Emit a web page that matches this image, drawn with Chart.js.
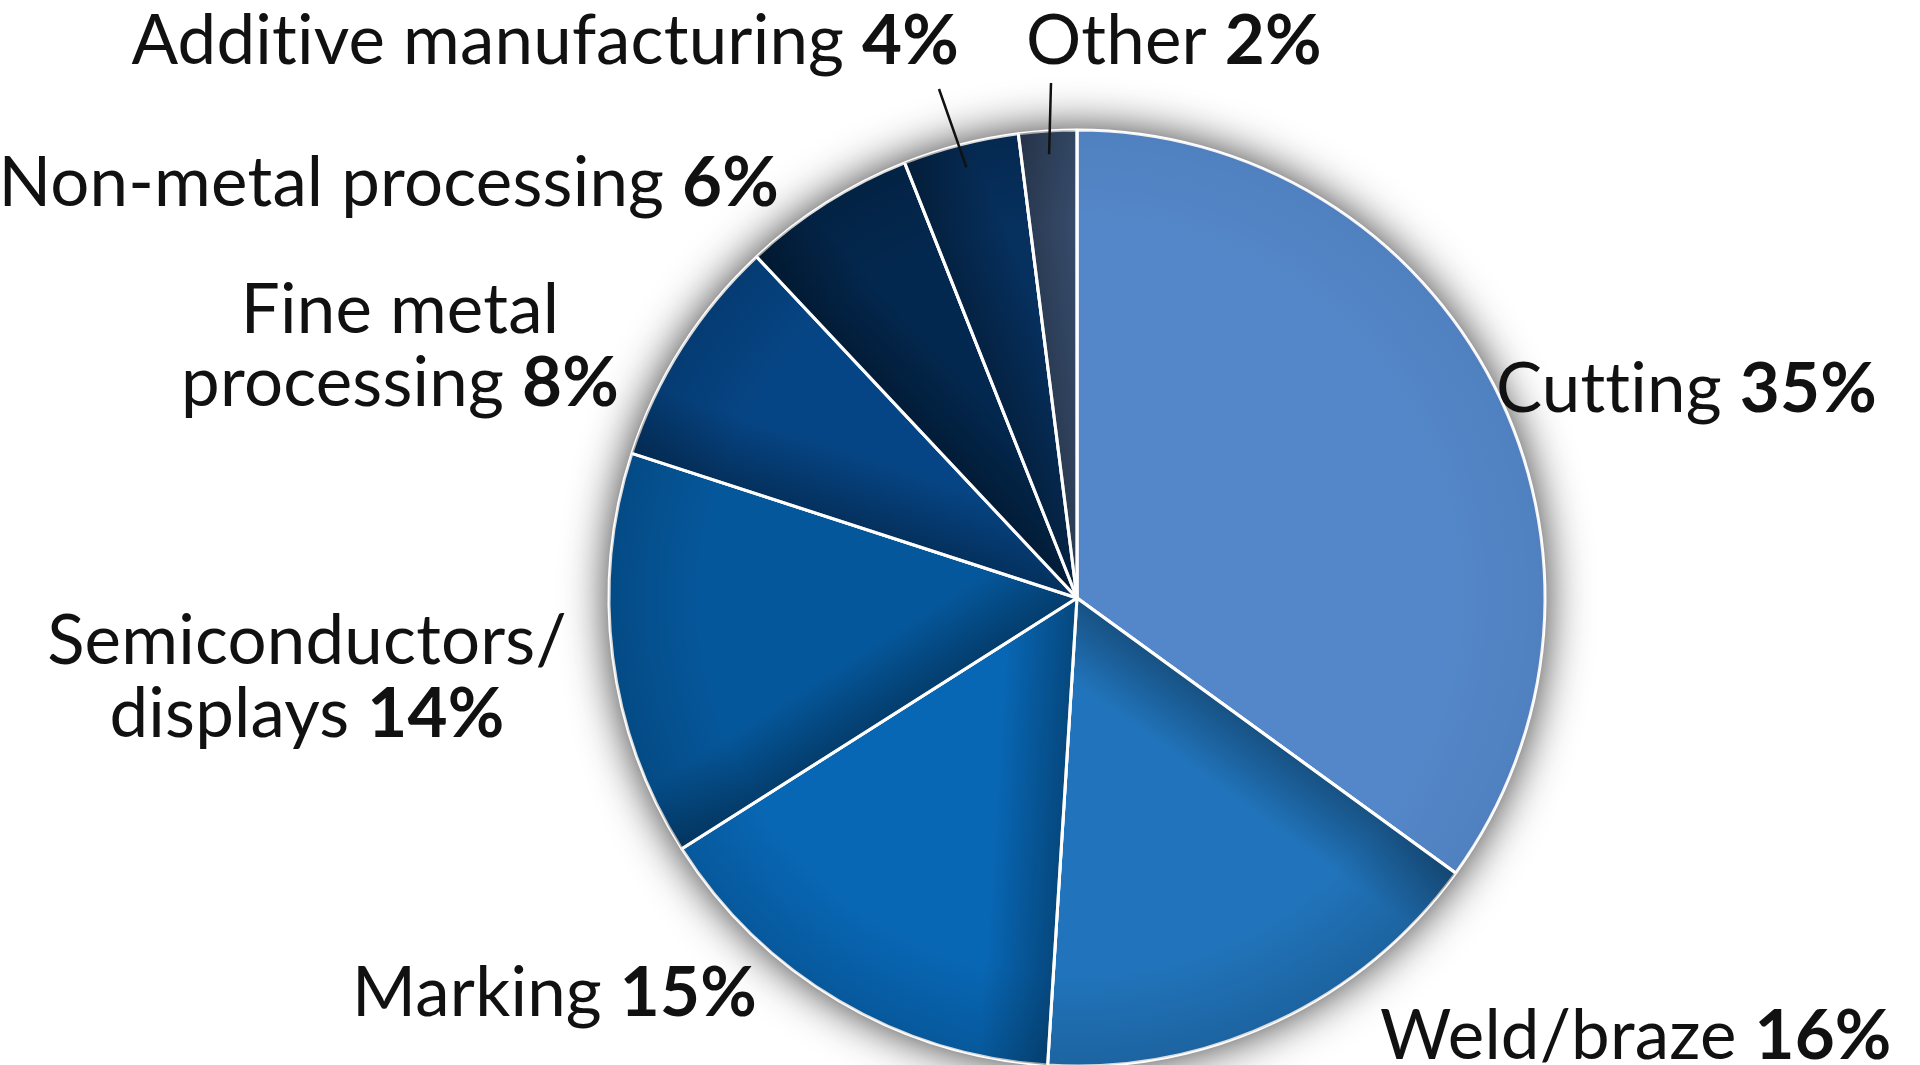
<!DOCTYPE html>
<html>
<head>
<meta charset="utf-8">
<title>Laser applications by share</title>
<script src="https://cdn.jsdelivr.net/npm/chart.js@4.4.1/dist/chart.umd.min.js"></script>
<style>
  html, body { margin: 0; padding: 0; background: #ffffff; overflow: hidden; }
  #wrap { position: relative; width: 1920px; height: 1065px; }
</style>
</head>
<body>
<div id="wrap"><canvas id="pie" width="1920" height="1065"></canvas></div>
<script>
// Application categories (multi-line names are arrays of lines)
const categories = [
  'Cutting',
  'Weld/braze',
  'Marking',
  ['Semiconductors/', 'displays'],
  ['Fine metal', 'processing'],
  'Non-metal processing',
  'Additive manufacturing',
  'Other'
];
// Share of each application, percent
const shares = [35, 16, 15, 14, 8, 6, 4, 2];
// Slice fills
const sliceColors = ['#5487C9', '#2174BB', '#0867B5', '#05579B', '#064585', '#03284F', '#06305E', '#3D5578'];

// Label anchors, offset from the pie centre (px); baseline of the first line
const labelPlacement = [
  { dx: 419,  dy: -186, align: 'left' },
  { dx: 303,  dy: 461,  align: 'left' },
  { dx: -320, dy: 418,  align: 'right' },
  { dx: -770, dy: 66,   align: 'center' },
  { dx: -677, dy: -265, align: 'center' },
  { dx: -298, dy: -392, align: 'right' },
  { dx: -118, dy: -534, align: 'right', leader: { dx: -138, dy: -509 } },
  { dx: -51,  dy: -534, align: 'left',  leader: { dx: -26,  dy: -515 } }
];

const FONT_FAMILY = 'Lato, "Noto Sans", sans-serif';
const FONT_SIZE = 69;
const LINE_HEIGHT = 73;

// Soft drop shadow behind the whole pie
const pieShadow = {
  id: 'pieShadow',
  beforeDatasetsDraw(chart) {
    const arcs = chart.getDatasetMeta(0).data;
    if (!arcs.length) return;
    const { x, y, outerRadius } = arcs[0].getProps(['x', 'y', 'outerRadius'], true);
    const ctx = chart.ctx;
    ctx.save();
    ctx.shadowColor = 'rgba(0,0,0,0.85)';
    ctx.shadowBlur = 46;
    ctx.fillStyle = '#555555';
    ctx.beginPath();
    ctx.arc(x, y, outerRadius - 1, 0, Math.PI * 2);
    ctx.fill();
    ctx.restore();
  }
};

// Darkening at the rim and along each slice's leading edge, then white separators again
const sliceShade = {
  id: 'sliceShade',
  afterDatasetsDraw(chart) {
    const ctx = chart.ctx;
    const arcs = chart.getDatasetMeta(0).data;
    arcs.forEach((arc, i) => {
      const { x, y, startAngle, endAngle, outerRadius } =
        arc.getProps(['x', 'y', 'startAngle', 'endAngle', 'outerRadius'], true);
      ctx.save();
      ctx.beginPath();
      ctx.moveTo(x, y);
      ctx.arc(x, y, outerRadius, startAngle, endAngle);
      ctx.closePath();
      ctx.clip();

      // rim (kept faint on the light slice)
      const rimAlpha = i === 0 ? 0.05 : 0.14;
      const rg = ctx.createRadialGradient(x, y, outerRadius * 0.8, x, y, outerRadius);
      rg.addColorStop(0, 'rgba(0,0,0,0)');
      rg.addColorStop(1, `rgba(0,0,0,${rimAlpha})`);
      ctx.fillStyle = rg;
      ctx.fillRect(x - outerRadius, y - outerRadius, outerRadius * 2, outerRadius * 2);

      // shadow cast along the start edge
      if (i > 0) {
        const nx = -Math.sin(startAngle), ny = Math.cos(startAngle);
        const w = 70;
        const lg = ctx.createLinearGradient(x, y, x + nx * w, y + ny * w);
        lg.addColorStop(0, 'rgba(0,0,0,0.30)');
        lg.addColorStop(1, 'rgba(0,0,0,0)');
        ctx.fillStyle = lg;
        ctx.fillRect(x - outerRadius, y - outerRadius, outerRadius * 2, outerRadius * 2);
      }
      ctx.restore();
    });

    ctx.save();
    ctx.strokeStyle = '#ffffff';
    ctx.lineWidth = 3;
    arcs.forEach(arc => {
      const { x, y, startAngle, outerRadius } = arc.getProps(['x', 'y', 'startAngle', 'outerRadius'], true);
      ctx.beginPath();
      ctx.moveTo(x, y);
      ctx.lineTo(x + Math.cos(startAngle) * outerRadius, y + Math.sin(startAngle) * outerRadius);
      ctx.stroke();
    });
    ctx.restore();
  }
};

// Category names with bold percentages, plus leader lines for the thin slices
const sliceLabels = {
  id: 'sliceLabels',
  afterDraw(chart) {
    const ctx = chart.ctx;
    const arcs = chart.getDatasetMeta(0).data;
    const labels = chart.data.labels;
    const values = chart.data.datasets[0].data;
    arcs.forEach((arc, i) => {
      const { x: cx, y: cy, startAngle, endAngle, outerRadius } =
        arc.getProps(['x', 'y', 'startAngle', 'endAngle', 'outerRadius'], true);
      const place = labelPlacement[i];
      const lines = Array.isArray(labels[i]) ? labels[i] : [labels[i]];
      const pct = values[i] + '%';
      const bx = cx + place.dx;
      let by = cy + place.dy;

      ctx.save();
      ctx.fillStyle = '#111111';
      ctx.textBaseline = 'alphabetic';
      ctx.textAlign = 'left';
      // a little tracking also keeps "ti" from forming a ligature
      ctx.letterSpacing = '0.2px';
      lines.forEach((line, k) => {
        const last = k === lines.length - 1;
        const normalText = last ? line + ' ' : line;
        ctx.font = `400 ${FONT_SIZE}px ${FONT_FAMILY}`;
        const w1 = ctx.measureText(normalText).width;
        ctx.font = `700 ${FONT_SIZE}px ${FONT_FAMILY}`;
        const w2 = last ? ctx.measureText(pct).width : 0;
        const total = w1 + w2;
        const x0 = place.align === 'left' ? bx : place.align === 'right' ? bx - total : bx - total / 2;
        ctx.font = `400 ${FONT_SIZE}px ${FONT_FAMILY}`;
        ctx.fillText(normalText, x0, by);
        if (last) {
          ctx.font = `700 ${FONT_SIZE}px ${FONT_FAMILY}`;
          ctx.fillText(pct, x0 + w1, by);
        }
        by += LINE_HEIGHT;
      });

      if (place.leader) {
        const mid = (startAngle + endAngle) / 2;
        const r = outerRadius * 0.95;
        ctx.strokeStyle = '#111111';
        ctx.lineWidth = 2.5;
        ctx.beginPath();
        ctx.moveTo(cx + place.leader.dx, cy + place.leader.dy);
        ctx.lineTo(cx + Math.cos(mid) * r, cy + Math.sin(mid) * r);
        ctx.stroke();
      }
      ctx.restore();
    });
  }
};

new Chart(document.getElementById('pie'), {
  type: 'pie',
  data: {
    labels: categories,
    datasets: [{
      data: shares,
      backgroundColor: sliceColors,
      borderColor: '#ffffff',
      borderWidth: 3,
      radius: 468
    }]
  },
  options: {
    responsive: false,
    animation: false,
    layout: { padding: { left: 577, right: 343, top: 148, bottom: 17 } },
    plugins: {
      legend: { display: false },
      tooltip: { enabled: false }
    }
  },
  plugins: [pieShadow, sliceShade, sliceLabels]
});
</script>
</body>
</html>
